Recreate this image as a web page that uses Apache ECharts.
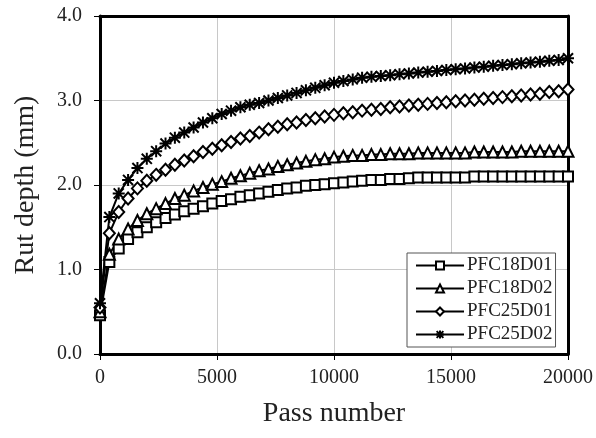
<!DOCTYPE html>
<html>
<head>
<meta charset="utf-8">
<script src="https://cdn.jsdelivr.net/npm/echarts@6/dist/echarts.min.js"></script>
<style>
  html, body { margin: 0; padding: 0; background: #fff; }
  #chart { width: 596px; height: 438px; }
</style>
</head>
<body>
<div id="chart"></div>
<script>
// pass numbers (every 400 passes)
var passes = [
  0, 400, 800, 1200, 1600, 2000, 2400, 2800, 3200, 3600,
  4000, 4400, 4800, 5200, 5600, 6000, 6400, 6800, 7200, 7600,
  8000, 8400, 8800, 9200, 9600, 10000, 10400, 10800, 11200, 11600,
  12000, 12400, 12800, 13200, 13600, 14000, 14400, 14800, 15200, 15600,
  16000, 16400, 16800, 17200, 17600, 18000, 18400, 18800, 19200, 19600,
  20000
]

var pfc18d01 = [
  0.46, 1.09, 1.25, 1.36, 1.44, 1.50, 1.56, 1.61, 1.65, 1.69,
  1.72, 1.75, 1.78, 1.81, 1.83, 1.86, 1.88, 1.90, 1.92, 1.94,
  1.96, 1.97, 1.99, 2.00, 2.01, 2.02, 2.03, 2.04, 2.05, 2.06,
  2.06, 2.07, 2.07, 2.08, 2.09, 2.09, 2.09, 2.09, 2.09, 2.09,
  2.10, 2.10, 2.10, 2.10, 2.10, 2.10, 2.10, 2.10, 2.10, 2.10,
  2.10
]

var pfc18d02 = [
  0.50, 1.18, 1.36, 1.48, 1.58, 1.66, 1.72, 1.78, 1.84, 1.88,
  1.93, 1.97, 2.01, 2.04, 2.08, 2.11, 2.14, 2.17, 2.19, 2.22,
  2.24, 2.26, 2.28, 2.30, 2.31, 2.33, 2.34, 2.35, 2.35, 2.36,
  2.36, 2.37, 2.37, 2.37, 2.38, 2.38, 2.38, 2.38, 2.38, 2.38,
  2.39, 2.39, 2.39, 2.39, 2.39, 2.40, 2.40, 2.40, 2.40, 2.40,
  2.40
]

var pfc25d01 = [
  0.55, 1.43, 1.68, 1.84, 1.96, 2.05, 2.12, 2.18, 2.24, 2.29,
  2.34, 2.39, 2.43, 2.47, 2.51, 2.55, 2.58, 2.62, 2.66, 2.69,
  2.72, 2.74, 2.77, 2.79, 2.81, 2.83, 2.85, 2.86, 2.88, 2.89,
  2.90, 2.92, 2.93, 2.94, 2.95, 2.96, 2.97, 2.98, 2.99, 3.00,
  3.01, 3.02, 3.03, 3.04, 3.05, 3.06, 3.07, 3.08, 3.10, 3.11,
  3.13
]

var pfc25d02 = [
  0.60, 1.62, 1.90, 2.06, 2.20, 2.31, 2.40, 2.49, 2.56, 2.62,
  2.68, 2.74, 2.79, 2.84, 2.88, 2.92, 2.95, 2.97, 3.00, 3.03,
  3.06, 3.09, 3.12, 3.15, 3.18, 3.21, 3.23, 3.25, 3.27, 3.28,
  3.29, 3.30, 3.31, 3.32, 3.33, 3.34, 3.35, 3.36, 3.37, 3.38,
  3.39, 3.40, 3.41, 3.42, 3.43, 3.44, 3.45, 3.46, 3.47, 3.48,
  3.50
]

var seriesNames = ['PFC18D01', 'PFC18D02', 'PFC25D01', 'PFC25D02']
var yTicks = ['0.0', '1.0', '2.0', '3.0', '4.0']

var serif = '"Liberation Serif", "Times New Roman", serif'
var asterisk = 'path://M5,0 L5,10 M0.8,0.8 L9.2,9.2 M9.2,0.8 L0.8,9.2 M0,5 L10,5'

function pairs(vals) {
  return passes.map(function (p, i) { return [p, vals[i]] })
}

function lineSeries(name, vals, symbol, size) {
  return {
    name: name,
    type: 'line',
    data: pairs(vals),
    symbol: symbol,
    symbolSize: size,
    showAllSymbol: true,
    lineStyle: { color: '#000', width: 2 },
    itemStyle: {
      color: symbol === asterisk ? '#000' : '#fff',
      borderColor: '#000',
      borderWidth: 2
    }
  }
}

// plain frame axes for top and right edges
var frameX = {
  type: 'value', min: 0, max: 20000, position: 'top',
  axisLine: { show: true, onZero: false, lineStyle: { color: '#000', width: 3 } },
  axisTick: { show: false }, axisLabel: { show: false }, splitLine: { show: false }
}
var frameY = {
  type: 'value', min: 0, max: 4, position: 'right',
  axisLine: { show: true, onZero: false, lineStyle: { color: '#000', width: 3 } },
  axisTick: { show: false }, axisLabel: { show: false }, splitLine: { show: false }
}

var chart = echarts.init(document.getElementById('chart'))
chart.setOption({
  animation: false,
  textStyle: { fontFamily: serif },
  grid: {
    left: 100, right: 28, top: 16, bottom: 84,
    show: false
  },
  legend: {
    data: seriesNames,
    orient: 'vertical',
    left: 407,
    top: 253,
    padding: [3, 3, 3, 8],
    itemWidth: 48,
    itemHeight: 10,
    itemGap: 4,
    backgroundColor: '#fff',
    borderColor: '#555',
    borderWidth: 1,
    textStyle: { fontFamily: serif, fontSize: 19, color: '#222', padding: [0, 0, 0, -2] }
  },
  xAxis: [{
    type: 'value',
    min: 0,
    max: 20000,
    interval: 5000,
    name: 'Pass number',
    nameLocation: 'middle',
    nameGap: 46,
    nameTextStyle: { fontFamily: serif, fontSize: 28, color: '#222' },
    axisLine: { show: true, onZero: false, lineStyle: { color: '#000', width: 3 } },
    axisTick: { show: true, inside: false, length: 6, lineStyle: { color: '#000', width: 1 } },
    axisLabel: {
      fontFamily: serif, fontSize: 20, color: '#222', margin: 14,
      formatter: function (v) { return String(v) }
    },
    splitLine: { show: true, lineStyle: { color: '#c8c8c8', width: 1 } }
  }, frameX],
  yAxis: [{
    type: 'value',
    min: 0,
    max: 4,
    interval: 1,
    name: 'Rut depth (mm)',
    nameLocation: 'middle',
    nameGap: 60,
    nameTextStyle: { fontFamily: serif, fontSize: 28, color: '#222' },
    axisLine: { show: true, onZero: false, lineStyle: { color: '#000', width: 3 } },
    axisTick: { show: true, inside: false, length: 6, lineStyle: { color: '#000', width: 1 } },
    axisLabel: {
      fontFamily: serif, fontSize: 20, color: '#222', margin: 18,
      formatter: function (v) { return yTicks[Math.round(v)] }
    },
    splitLine: { show: true, lineStyle: { color: '#c8c8c8', width: 1 } }
  }, frameY],
  series: [
    lineSeries(seriesNames[0], pfc18d01, 'rect', 10),
    lineSeries(seriesNames[1], pfc18d02, 'triangle', 11),
    lineSeries(seriesNames[2], pfc25d01, 'diamond', [11, 12]),
    lineSeries(seriesNames[3], pfc25d02, asterisk, 12)
  ]
})
</script>
</body>
</html>
